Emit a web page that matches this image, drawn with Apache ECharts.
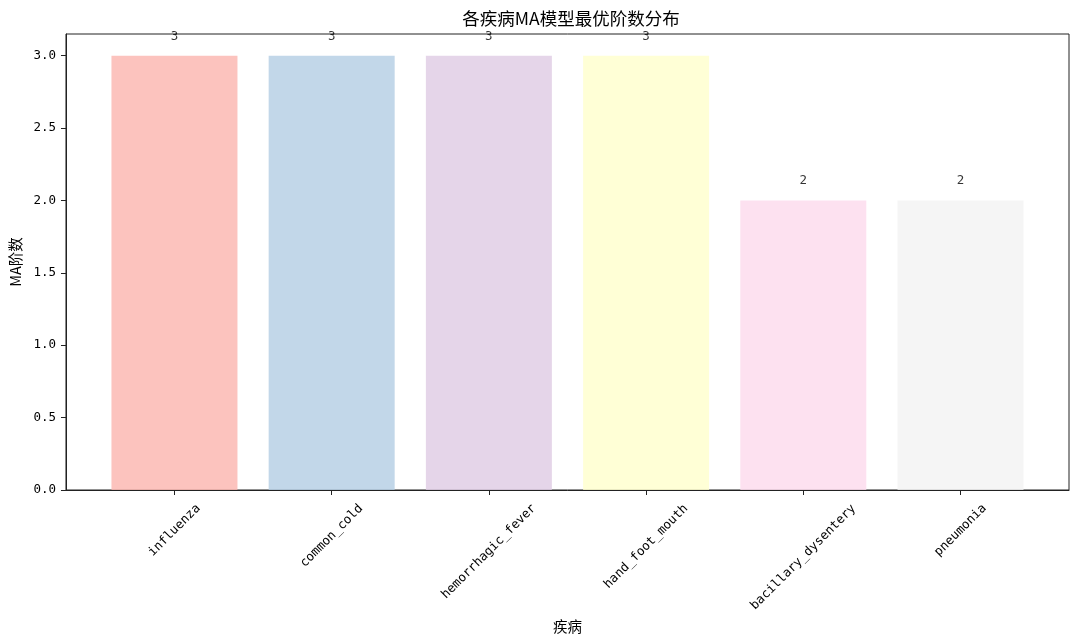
<!DOCTYPE html>
<html><head><meta charset="utf-8">
<script src="https://cdn.jsdelivr.net/npm/echarts@6/dist/echarts.min.js"></script>
<style>html,body{margin:0;padding:0;background:#fff}#c{width:1080px;height:642px}</style>
</head><body><div id="c"></div>
<script>
const categories = ['influenza','common_cold','hemorrhagic_fever','hand_foot_mouth','bacillary_dysentery','pneumonia'];
const maOrders = [3,3,3,3,2,2];
const barColors = ['#fbb4ae','#b3cde3','#decbe4','#ffffcc','#fddaec','#f2f2f2'];
const yTicks = [0,0.5,1.0,1.5,2.0,2.5,3.0];

const chart = echarts.init(document.getElementById('c'), null, {renderer:'canvas'});
const latin = '"DejaVu Sans Mono","Noto Sans CJK SC",monospace';
const cjk = '"Noto Sans CJK SC","DejaVu Sans",sans-serif';
const idx = categories.map((_, i) => i);
const FS = 12.5;

// rotated labels centred under their tick (like matplotlib rotation=45, ha='center')
const ctx = document.createElement('canvas').getContext('2d');
ctx.font = FS + 'px "DejaVu Sans Mono"';
const rich = {};
categories.forEach((c, i) => {
  const w = ctx.measureText(c).width, h = FS;
  const p = Math.round(0.5 * (w + h));
  rich['r' + i] = {fontFamily:latin, fontSize:FS, color:'#000', padding:[p, p, 0, 0]};
});

chart.setOption({
  animation:false,
  backgroundColor:'#fff',
  title:{text:'各疾病MA模型最优阶数分布', left:566, top:5, textAlign:'center',
    textStyle:{fontFamily:cjk, fontSize:17.5, fontWeight:'normal', color:'#000'}},
  grid:{left:64, right:11, top:34, bottom:152, show:true, borderColor:'#222', borderWidth:1, backgroundColor:'transparent'},
  xAxis:{type:'value', min:-0.69, max:5.69,
    name:'疾病', nameLocation:'middle', nameGap:127,
    nameTextStyle:{fontFamily:cjk, fontSize:14.5, color:'#000'},
    splitLine:{show:false},
    axisLine:{show:true, onZero:false, lineStyle:{color:'#222', width:1}},
    axisTick:{show:true, customValues:idx, length:5, lineStyle:{color:'#222'}},
    axisLabel:{customValues:idx, rotate:45, margin:12, align:'center', verticalAlign:'middle',
      rich:rich, formatter:v => { const i = Math.round(v); return '{r' + i + '|' + categories[i] + '}'; }}
  },
  yAxis:{type:'value', min:0, max:3.15,
    name:'MA阶数', nameLocation:'middle', nameGap:38, nameRotate:90,
    nameTextStyle:{fontFamily:cjk, fontSize:14.5, color:'#000'},
    splitLine:{show:false},
    axisLine:{show:true, onZero:false, lineStyle:{color:'#222', width:1}},
    axisTick:{show:true, customValues:yTicks, length:5, lineStyle:{color:'#222'}},
    axisLabel:{customValues:yTicks, margin:10, fontFamily:latin, fontSize:FS, color:'#000',
      formatter:v => v.toFixed(1)}
  },
  series:[{
    type:'bar', barWidth:126,
    data: maOrders.map((v,i) => ({value:[i, v], itemStyle:{color:barColors[i], opacity:0.8}})),
    label:{show:true, position:'top', distance:13, fontFamily:latin, fontSize:FS, color:'#000',
      formatter:p => String(p.value[1])},
    z:3
  }]
});
</script></body></html>
